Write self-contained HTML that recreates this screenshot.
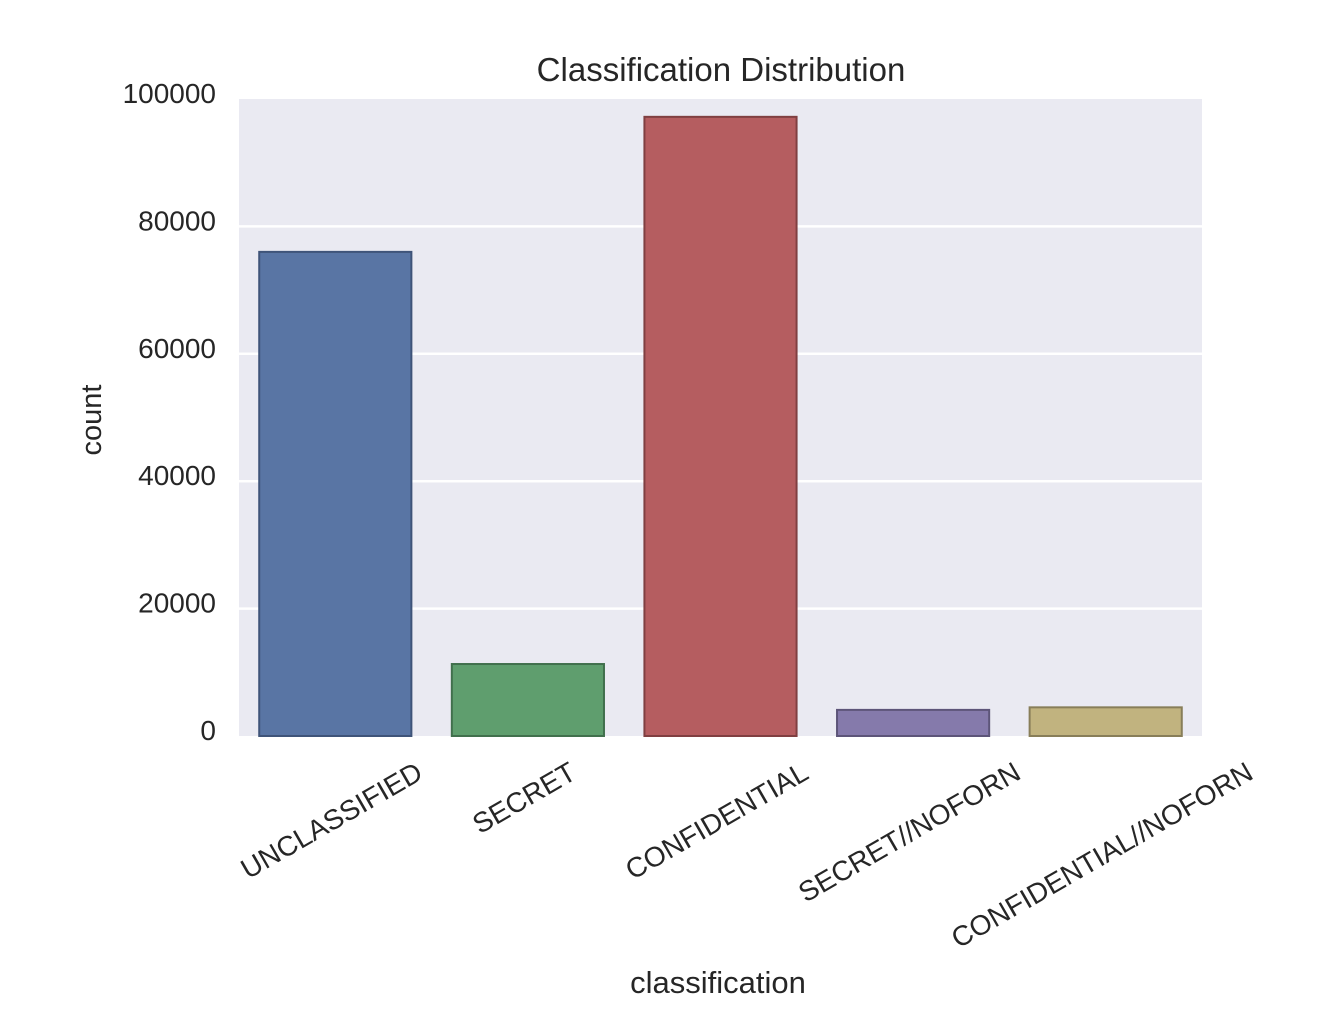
<!DOCTYPE html>
<html><head><meta charset="utf-8"><style>
html,body{margin:0;padding:0;background:#fff;}
svg{display:block;font-family:"Liberation Sans",Arial,sans-serif;}
</style></head><body>
<svg id="chart" width="1342" height="1026" viewBox="0 0 1342 1026" xmlns="http://www.w3.org/2000/svg">
<rect x="239" y="99" width="963" height="637" fill="#eaeaf2"/>
<g id="grid"></g>
<g id="bars"></g>
<g id="yticks"></g>
<g id="xticks"></g>
<text x="721" y="81" font-size="33" text-anchor="middle" fill="#262626">Classification Distribution</text>
<text transform="translate(101,420) rotate(-90)" font-size="29" text-anchor="middle" fill="#262626">count</text>
<text x="718" y="993" font-size="31" text-anchor="middle" fill="#262626">classification</text>
</svg>
<script>
const categories = ["UNCLASSIFIED","SECRET","CONFIDENTIAL","SECRET//NOFORN","CONFIDENTIAL//NOFORN"];
const counts = [76000, 11300, 97200, 4100, 4500];
const colors = ["#5975a4","#5f9e6e","#b55d60","#857aab","#c1b37f"];
const edgeColors = ["#3f5479","#41704d","#803f41","#5d5579","#887e59"];
const yTicks = [0,20000,40000,60000,80000,100000];
const yTickLabels = ["0","20000","40000","60000","80000","100000"];

const NS="http://www.w3.org/2000/svg";
const PL=239, PR=1202, PT=99, PB=736, YMAX=100000;
function y(v){return PB-(v/YMAX)*(PB-PT);}
const band=(PR-PL)/categories.length;
function xc(i){return PL+band*(i+0.5);}

const grid=document.getElementById('grid');
const yt=document.getElementById('yticks');
yTicks.forEach((t,i)=>{
  if(t>0 && t<YMAX){
    const l=document.createElementNS(NS,'line');
    
    
    l.setAttribute('x1',PL);l.setAttribute('x2',PR);
    l.setAttribute('y1',y(t));l.setAttribute('y2',y(t));
    l.setAttribute('stroke','#fff');l.setAttribute('stroke-width','2.5');
    grid.appendChild(l);
  }
  const tx=document.createElementNS(NS,'text');
  
  
  tx.setAttribute('x',216);tx.setAttribute('y',y(t)+4);
  tx.setAttribute('text-anchor','end');tx.setAttribute('font-size','28');
  tx.setAttribute('fill','#262626');
  tx.textContent=yTickLabels[i];
  yt.appendChild(tx);
});

const bars=document.getElementById('bars');
const bw=band*0.79;
counts.forEach((c,i)=>{
  const r=document.createElementNS(NS,'rect');
  
  
  r.setAttribute('x',xc(i)-bw/2);r.setAttribute('width',bw);
  r.setAttribute('y',y(c));r.setAttribute('height',PB-y(c));
  r.setAttribute('fill',colors[i]);r.setAttribute('stroke',edgeColors[i]);r.setAttribute('stroke-width','2');
  bars.appendChild(r);
});

const xt=document.getElementById('xticks');
categories.forEach((c,i)=>{
  const tx=document.createElementNS(NS,'text');
  
  
  tx.setAttribute('font-size','28');tx.setAttribute('fill','#262626');
  tx.setAttribute('text-anchor','middle');
  tx.textContent=c;
  xt.appendChild(tx);
  const w=tx.getComputedTextLength();
  const h=21;
  const half=(w*0.5+h*0.866)/2;
  const cy=760+half;
  const cx=xc(i)-4;
  tx.setAttribute('transform','translate('+cx+','+cy+') rotate(-30)');
  tx.setAttribute('x',0);tx.setAttribute('y',10);
});
</script>
</body></html>
